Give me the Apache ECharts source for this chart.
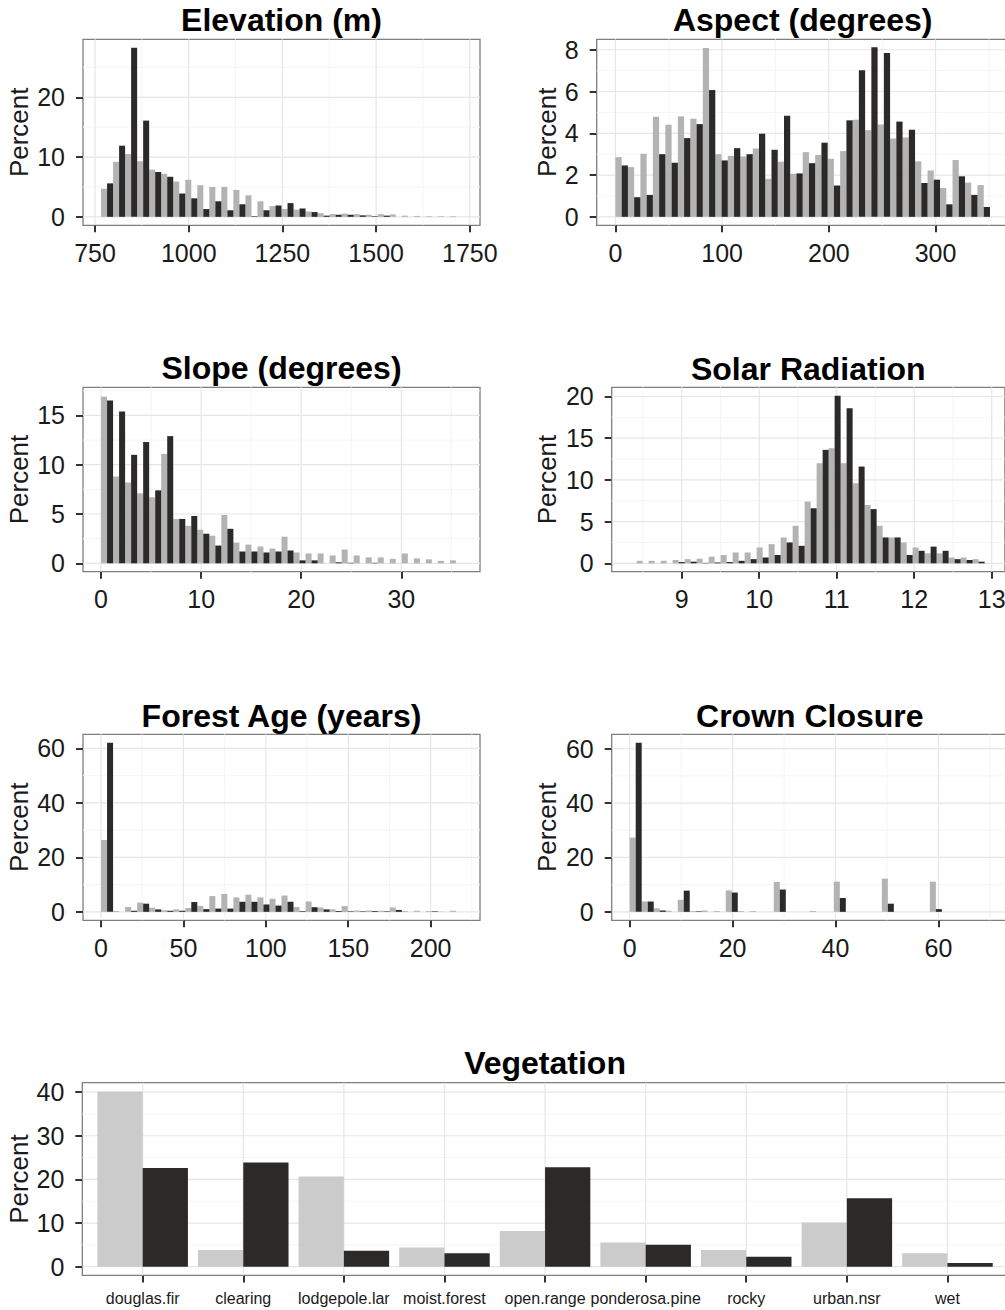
<!DOCTYPE html>
<html>
<head>
<meta charset="utf-8">
<script src="https://cdn.jsdelivr.net/npm/echarts@6/dist/echarts.min.js"></script>
<style>html,body{margin:0;padding:0;background:#fff}#c{width:1005px;height:1310px}</style>
</head>
<body>
<div id="c"></div>
<script>
// ---------------- DATA ----------------
// Elevation (m): 30 bins
const elevBinStart = 766, elevBinWidth = 32.1;
const elevGrey  = [4.7, 9.2, 10.5, 9.3, 7.9, 7.2, 5.9, 6.2, 5.3, 5.0, 5.0, 4.5, 3.6, 2.6, 1.8, 1.3, 1.2, 0.9, 0.6, 0.45, 0.55, 0.45, 0.35, 0.45, 0.4, 0.2, 0.15, 0.1, 0.1, 0.1];
const elevBlack = [5.6, 11.9, 28.3, 16.1, 7.5, 6.7, 3.9, 3.1, 1.3, 2.6, 1.1, 2.1, 0.1, 1.1, 1.9, 2.3, 1.4, 0.8, 0.2, 0.35, 0.35, 0.25, 0.1, 0.2, 0, 0, 0, 0, 0, 0];
const elevXTicks = [750, 1000, 1250, 1500, 1750];
const elevYTicks = [0, 10, 20];

// Aspect (degrees)
const aspectBinStart = 0, aspectBinWidth = 11.7;
const aspectGrey  = [2.86, 2.38, 3.02, 4.79, 4.41, 4.81, 4.70, 8.08, 3.0, 2.92, 2.89, 3.27, 1.82, 2.64, 2.06, 3.10, 2.96, 2.78, 3.15, 4.65, 4.15, 4.42, 3.75, 3.80, 2.66, 2.22, 1.38, 2.72, 1.64, 1.52];
const aspectBlack = [2.46, 0.94, 1.05, 3.0, 2.59, 3.77, 4.44, 6.07, 2.7, 3.29, 3.0, 3.98, 3.21, 4.84, 2.08, 2.57, 3.55, 1.5, 4.62, 7.02, 8.12, 7.84, 4.56, 4.17, 1.62, 1.78, 0.6, 1.94, 1.05, 0.47];
const aspectXTicks = [0, 100, 200, 300];
const aspectYTicks = [0, 2, 4, 6, 8];

// Slope (degrees)
const slopeBinStart = 0, slopeBinWidth = 1.202;
const slopeGrey  = [16.9, 8.8, 8.2, 7.1, 6.7, 11.1, 4.5, 3.8, 3.4, 2.8, 4.9, 2.1, 1.9, 1.7, 1.5, 2.7, 1.1, 1.0, 1.0, 0.8, 1.4, 0.8, 0.6, 0.6, 0.45, 1.0, 0.5, 0.4, 0.25, 0.3];
const slopeBlack = [16.5, 15.4, 11.0, 12.3, 7.4, 12.9, 4.5, 4.8, 3.0, 1.8, 3.5, 1.2, 1.2, 1.1, 1.2, 1.3, 0.3, 0.3, 0, 0.1, 0.05, 0, 0.05, 0, 0, 0, 0, 0, 0, 0];
const slopeXTicks = [0, 10, 20, 30];
const slopeYTicks = [0, 5, 10, 15];

// Solar Radiation
const solarBinStart = 8.419, solarBinWidth = 0.1548;
const solarGrey  = [0.3, 0.3, 0.3, 0.4, 0.5, 0.55, 0.8, 1.0, 1.3, 1.3, 1.9, 2.3, 3.1, 4.5, 7.4, 12.0, 13.8, 12.0, 9.6, 7.0, 4.5, 3.1, 2.5, 1.9, 1.2, 1.2, 0.7, 0.7, 0.5];
const solarBlack = [0, 0, 0, 0.15, 0.2, 0.05, 0.1, 0.15, 0.3, 0.5, 0.7, 1.0, 2.5, 2.1, 6.6, 13.6, 20.1, 18.6, 11.6, 6.5, 3.1, 3.1, 1.0, 1.5, 2.0, 1.5, 0.5, 0.4, 0.2];
const solarXTicks = [9, 10, 11, 12, 13];
const solarYTicks = [0, 5, 10, 15, 20];

// Forest Age (years)
const forestBinStart = 0, forestBinWidth = 7.3;
const forestGrey  = [26.4, 0.3, 1.8, 3.4, 1.5, 0.6, 0.9, 1.4, 2.2, 5.8, 6.6, 5.3, 6.3, 5.3, 4.8, 6.0, 1.8, 3.8, 1.6, 0.9, 2.1, 0.5, 0.5, 0.4, 1.6, 0.3, 0.4, 0.3, 0.1, 0.4];
const forestBlack = [62.1, 0, 0.4, 3.0, 0.9, 0.4, 0.4, 3.6, 1.0, 1.2, 1.2, 3.7, 3.7, 2.7, 2.3, 3.7, 0.25, 1.7, 0.9, 0.3, 0.2, 0.2, 0.3, 0.2, 0.7, 0, 0, 0.2, 0, 0];
const forestXTicks = [0, 50, 100, 150, 200];
const forestYTicks = [0, 20, 40, 60];

// Crown Closure
const crownBinStart = 0, crownBinWidth = 2.3333;
const crownGrey  = [27.3, 3.8, 1.3, 0.4, 4.4, 0.3, 0.5, 0.3, 7.9, 0.3, 0.3, 0, 11.0, 0, 0, 0.3, 0, 11.1, 0, 0, 0, 12.2, 0, 0, 0, 11.1, 0, 0, 0, 0];
const crownBlack = [62.2, 3.8, 0.5, 0, 7.8, 0.2, 0, 0, 7.1, 0, 0, 0, 8.2, 0, 0, 0, 0, 5.1, 0, 0, 0, 3.0, 0, 0, 0, 1.0, 0, 0, 0, 0];
const crownXTicks = [0, 20, 40, 60];
const crownYTicks = [0, 20, 40, 60];

// Vegetation
const vegCategories = ['douglas.fir', 'clearing', 'lodgepole.lar', 'moist.forest', 'open.range', 'ponderosa.pine', 'rocky', 'urban.nsr', 'wet'];
const vegGrey  = [40.15, 3.8, 20.65, 4.4, 8.15, 5.56, 3.8, 10.1, 3.1];
const vegBlack = [22.6, 23.85, 3.66, 3.1, 22.8, 5.03, 2.3, 15.7, 0.84];
const vegYTicks = [0, 10, 20, 30, 40];

// ---------------- STYLE / LAYOUT ----------------
const FONT = "'Liberation Sans', Arial, Helvetica, sans-serif";
const GREY = '#b3b3b3', BLACK = '#2b2a28', VEG_GREY = '#cbcbcb';
const MAJOR = '#e6e6e6', MINOR = '#f5f5f5';

const panels = [
  { title: 'Elevation (m)', grid: { left: 83, top: 39.3, width: 397, height: 186 }, xr: [717.85, 1777.15], yr: [-1.415, 29.7],
    xt: elevXTicks, yt: elevYTicks, start: elevBinStart, w: elevBinWidth, g: elevGrey, b: elevBlack, ty: 19.5, px: 19 },
  { title: 'Aspect (degrees)', grid: { left: 596.7, top: 39.3, width: 412, height: 186 }, xr: [-17.55, 368.55], yr: [-0.405, 8.5],
    xt: aspectXTicks, yt: aspectYTicks, start: aspectBinStart, w: aspectBinWidth, g: aspectGrey, b: aspectBlack, ty: 19.5, px: 547 },
  { title: 'Slope (degrees)', grid: { left: 83, top: 387.3, width: 397, height: 184.4 }, xr: [-1.803, 37.863], yr: [-0.85, 17.85],
    xt: slopeXTicks, yt: slopeYTicks, start: slopeBinStart, w: slopeBinWidth, g: slopeGrey, b: slopeBlack, ty: 368, px: 19 },
  { title: 'Solar Radiation', grid: { left: 611.7, top: 387.3, width: 393.2, height: 184.4 }, xr: [8.097, 13.17], yr: [-1.005, 21.1],
    xt: solarXTicks, yt: solarYTicks, start: solarBinStart, w: solarBinWidth, g: solarGrey, b: solarBlack, ty: 368.5, px: 547 },
  { title: 'Forest Age (years)', grid: { left: 83, top: 734.3, width: 397, height: 186 }, xr: [-10.95, 229.95], yr: [-3.105, 65.2],
    xt: forestXTicks, yt: forestYTicks, start: forestBinStart, w: forestBinWidth, g: forestGrey, b: forestBlack, ty: 716, px: 19 },
  { title: 'Crown Closure', grid: { left: 611.7, top: 734.3, width: 396.2, height: 186 }, xr: [-3.5, 73.5], yr: [-3.11, 65.3],
    xt: crownXTicks, yt: crownYTicks, start: crownBinStart, w: crownBinWidth, g: crownGrey, b: crownBlack, ty: 716, px: 547 }
];

function minorsOf(ticks, lo, hi) {
  const step = ticks[1] - ticks[0];
  const out = [];
  for (let v = ticks[0] - step / 2; v <= hi; v += step) if (v >= lo) out.push(+v.toFixed(6));
  return out;
}

function gridRender(params, api) {
  const cs = params.coordSys;
  const v = api.value(0), vert = api.value(1), minor = api.value(2);
  let shape;
  if (vert) {
    const px = api.coord([v, 0])[0];
    shape = { x1: px, y1: cs.y, x2: px, y2: cs.y + cs.height };
  } else {
    const py = api.coord([0, v])[1];
    shape = { x1: cs.x, y1: py, x2: cs.x + cs.width, y2: py };
  }
  return { type: 'line', shape: shape, silent: true,
    style: { stroke: minor ? MINOR : MAJOR, lineWidth: minor ? 1 : 1.2 } };
}

function barRender(fill) {
  return function (params, api) {
    const x0 = api.value(0), x1 = api.value(1), v = api.value(2);
    if (!(v > 0)) return null;
    const a = api.coord([x0, v]), b = api.coord([x1, 0]);
    return { type: 'rect', shape: { x: a[0], y: a[1], width: b[0] - a[0], height: b[1] - a[1] }, style: { fill: fill } };
  };
}

const option = { animation: false, backgroundColor: '#fff', grid: [], xAxis: [], yAxis: [], series: [], graphic: [] };
const plainNum = v => String(+v.toFixed(6));

function axisCommon(ticks, margin, fontSize, formatter) {
  return {
    axisLine: { show: false, onZero: false },
    axisTick: { show: true, customValues: ticks, length: 7, lineStyle: { color: '#333', width: 2 } },
    axisLabel: { show: true, customValues: ticks, margin: margin, fontSize: fontSize, color: '#1a1a1a', fontFamily: FONT,
      formatter: formatter || plainNum },
    splitLine: { show: false }, minorSplitLine: { show: false }
  };
}

function addPanel(p, i, greyCol) {
  option.grid.push(Object.assign({ show: true, backgroundColor: '#fff', borderColor: '#7f7f7f', borderWidth: 1.3,
    containLabel: false, outerBoundsMode: 'none' }, p.grid));
  option.xAxis.push(Object.assign({ type: 'value', gridIndex: i, min: p.xr[0], max: p.xr[1], position: 'bottom' },
    axisCommon(p.xt, p.xMargin || 15, p.xFont || 25, p.xFormatter)));
  option.yAxis.push(Object.assign({ type: 'value', gridIndex: i, min: p.yr[0], max: p.yr[1], position: 'left' },
    axisCommon(p.yt, 18, 25)));
  const gl = [];
  p.xt.forEach(v => gl.push([v, 1, 0]));
  (p.xMinor || minorsOf(p.xt, p.xr[0], p.xr[1])).forEach(v => gl.push([v, 1, 1]));
  p.yt.forEach(v => gl.push([v, 0, 0]));
  minorsOf(p.yt, p.yr[0], p.yr[1]).forEach(v => gl.push([v, 0, 1]));
  gl.sort((a, b) => b[2] - a[2]);
  option.series.push({ type: 'custom', xAxisIndex: i, yAxisIndex: i, z: 1, silent: true, renderItem: gridRender, data: gl });
  const gData = [], bData = [];
  for (let k = 0; k < p.g.length; k++) {
    if (p.centers) {
      const c = p.centers[k], hw = p.barHalf;
      gData.push([c - hw, c, p.g[k]]);
      bData.push([c, c + hw, p.b[k]]);
    } else {
      const x0 = p.start + k * p.w;
      gData.push([x0, x0 + p.w / 2, p.g[k]]);
      bData.push([x0 + p.w / 2, x0 + p.w, p.b[k]]);
    }
  }
  option.series.push({ type: 'custom', name: 'grey', xAxisIndex: i, yAxisIndex: i, z: 2, renderItem: barRender(greyCol), data: gData });
  option.series.push({ type: 'custom', name: 'black', xAxisIndex: i, yAxisIndex: i, z: 3, renderItem: barRender(BLACK), data: bData });
  option.graphic.push({ type: 'text', x: p.grid.left + p.grid.width / 2, y: p.ty,
    style: { text: p.title, fill: '#000', fontSize: 32, fontWeight: 'bold', fontFamily: FONT, textAlign: 'center', textVerticalAlign: 'middle' } });
  option.graphic.push({ type: 'text', x: p.px, y: p.grid.top + p.grid.height / 2, rotation: Math.PI / 2,
    style: { text: 'Percent', fill: '#1a1a1a', fontSize: 26, fontFamily: FONT, textAlign: 'center', textVerticalAlign: 'middle' } });
}

panels.forEach((p, i) => addPanel(p, i, GREY));

// Vegetation (discrete axis with ggplot-like 0.6 expansion; dodged bars of width 0.45)
const vegPos = vegCategories.map((c, k) => k + 1);
const vegPanel = {
  title: 'Vegetation', grid: { left: 82.3, top: 1082.7, width: 925.5, height: 192.7 }, xr: [0.4, 9.6], yr: [-2.0, 42.16],
  xt: vegPos, yt: vegYTicks, xMinor: [], centers: vegPos, barHalf: 0.45, g: vegGrey, b: vegBlack, ty: 1062.5, px: 19,
  xMargin: 15, xFont: 16, xFormatter: v => vegCategories[Math.round(v) - 1]
};
addPanel(vegPanel, 6, VEG_GREY);

const chart = echarts.init(document.getElementById('c'), null, { renderer: 'svg', width: 1005, height: 1310 });
chart.setOption(option);
</script>
</body>
</html>
